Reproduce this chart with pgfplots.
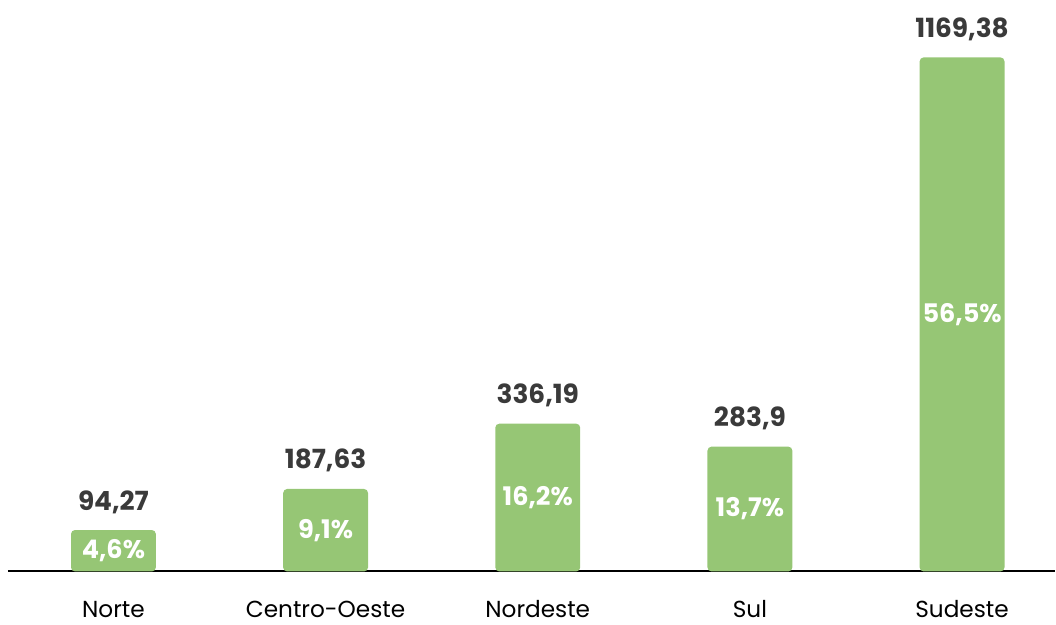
\documentclass[border=0pt]{standalone}
\usepackage{pgfplots}
\pgfplotsset{compat=1.18}
\usepackage{fontspec}
\setmainfont{Poppins}
\definecolor{barverde}{HTML}{96C675}
\definecolor{textocinza}{HTML}{3A3A3A}

\begin{document}
\begin{tikzpicture}
\begin{axis}[
    scale only axis,
    width=524bp, height=286bp,
    xmin=-0.497, xmax=4.438,
    ymin=0, ymax=1300,
    axis x line=bottom,
    axis y line=none,
    axis line style={black, line width=1bp, -},
    xtick=data,
    xticklabels={Norte, Centro-Oeste, Nordeste, Sul, Sudeste},
    major tick length=0pt,
    xticklabel style={font=\fontsize{11.6bp}{13bp}\selectfont, text=black, anchor=base, yshift=-23bp},
    clip=false,
]
% valores absolutos
\addplot[ybar, bar width=0.4, bar shift=0pt, fill=barverde, draw=none,
    rounded corners=2bp,
    nodes near coords, point meta=explicit symbolic,
    every node near coord/.append style={anchor=base, inner sep=0pt, yshift=10bp,
        font=\fontsize{13.2bp}{15bp}\selectfont\bfseries, text=textocinza}]
coordinates {
    (0,94.27)[94,27]
    (1,187.63)[187,63]
    (2,336.19)[336,19]
    (3,283.9)[283,9]
    (4,1169.38)[1169,38]
};
% participacao no meio das barras
\addplot[draw=none, mark=none,
    nodes near coords, point meta=explicit symbolic,
    every node near coord/.append style={anchor=center, inner sep=0pt,
        font=\fontsize{12.8bp}{15bp}\selectfont\bfseries, text=white}]
coordinates {
    (0,47.135)[4,6\%]
    (1,93.815)[9,1\%]
    (2,168.095)[16,2\%]
    (3,141.95)[13,7\%]
    (4,584.69)[56,5\%]
};
\end{axis}
\useasboundingbox (current axis.south west) ++(-4bp,-23bp) rectangle ([xshift=0bp]current axis.north east);
\end{tikzpicture}
\end{document}
